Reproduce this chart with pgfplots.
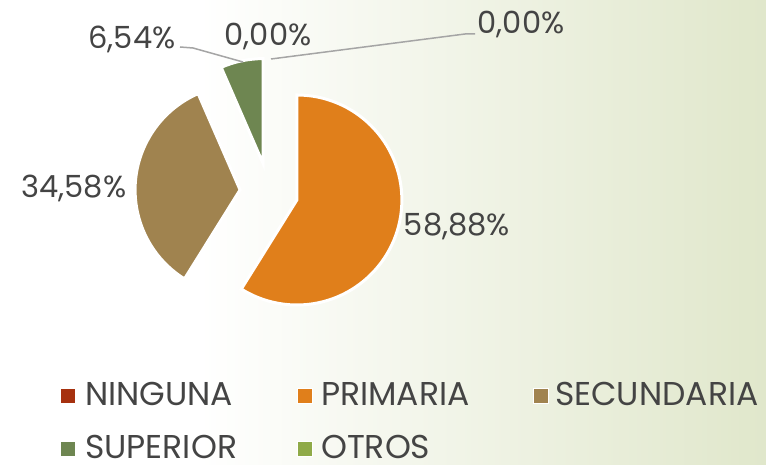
\documentclass[border=0pt]{standalone}
\usepackage{pgfplots}
\pgfplotsset{compat=1.18}
\usepackage{pgfplotstable}
\usepackage{fontspec}
\setmainfont{Poppins}
\definecolor{col0}{HTML}{A6310F}
\definecolor{col1}{HTML}{E07F1B}
\definecolor{col2}{HTML}{A0834F}
\definecolor{col3}{HTML}{6E8651}
\definecolor{col4}{HTML}{8FAA48}
\definecolor{txt}{HTML}{444444}
\definecolor{bgR}{RGB}{224,231,203}
\definecolor{lead}{HTML}{A5A5A5}
\pgfplotstableread{
categoria valor
NINGUNA 0.00
PRIMARIA 58.88
SECUNDARIA 34.58
SUPERIOR 6.54
OTROS 0.00
}\datos
\newcommand\lblfont{\fontsize{30.5}{31}\selectfont}
\newcommand\legfont{\fontsize{33}{33}\selectfont}
\begin{document}
\begin{tikzpicture}
\begin{axis}[
  scale only axis, width=766pt, height=464pt,
  xmin=0, xmax=766, ymin=0, ymax=464,
  hide axis, clip=false,
]
% background
\fill[white] (axis cs:0,0) rectangle (axis cs:200,464);
\shade[left color=white, right color=bgR, shading angle=90] (axis cs:199,0) rectangle (axis cs:766,464);
% pie
\pgfplotsextra{%
  \def\cum{0}%
  \pgfplotsforeachungrouped \i in {0,...,4}{%
    \pgfplotstablegetelem{\i}{valor}\of\datos
    \let\v\pgfplotsretval
    \pgfmathsetmacro\sa{90-3.6*\cum}%
    \pgfmathsetmacro\ea{90-3.6*(\cum+\v)}%
    \pgfmathsetmacro\ma{(\sa+\ea)/2}%
    \ifdim \v pt>0pt
      \fill[fill=col\i, draw=white, line width=3pt, line join=miter]
        (axis cs:269,272) ++(\ma:29pt) -- ++(\sa:105pt)
        arc[start angle=\sa, end angle=\ea, radius=105pt] -- cycle;
    \fi
    \pgfmathsetmacro\cum{\cum+\v}%
  }%
}
% leader lines
\draw[lead, line width=1.5pt] (axis cs:180,417) -- (axis cs:193,416) -- (axis cs:243,402);
\draw[lead, line width=1.5pt] (axis cs:271,405) -- (axis cs:465,430) -- (axis cs:475,430);
% data labels
\node[anchor=base, text=txt, font=\lblfont, inner sep=0pt] at (axis cs:457,228) {58,88\%};
\node[anchor=base, text=txt, font=\lblfont, inner sep=0pt] at (axis cs:74,266) {34,58\%};
\node[anchor=base, text=txt, font=\lblfont, inner sep=0pt] at (axis cs:132,415) {6,54\%};
\node[anchor=base, text=txt, font=\lblfont, inner sep=0pt] at (axis cs:268,418) {0,00\%};
\node[anchor=base, text=txt, font=\lblfont, inner sep=0pt] at (axis cs:521,430) {0,00\%};
% legend
\fill[col0, draw=white, line width=1pt] (axis cs:60,61) rectangle (axis cs:75,76);
\node[anchor=base west, text=txt, font=\legfont, inner sep=0pt] at (axis cs:85,59) {NINGUNA};
\fill[col1, draw=white, line width=1pt] (axis cs:297,61) rectangle (axis cs:312,76);
\node[anchor=base west, text=txt, font=\legfont, inner sep=0pt] at (axis cs:321,59) {PRIMARIA};
\fill[col2, draw=white, line width=1pt] (axis cs:533,61) rectangle (axis cs:548,76);
\node[anchor=base west, text=txt, font=\legfont, inner sep=0pt] at (axis cs:555,59) {SECUNDARIA};
\fill[col3, draw=white, line width=1pt] (axis cs:60,8) rectangle (axis cs:75,23);
\node[anchor=base west, text=txt, font=\legfont, inner sep=0pt] at (axis cs:85,6) {SUPERIOR};
\fill[col4, draw=white, line width=1pt] (axis cs:297,8) rectangle (axis cs:312,23);
\node[anchor=base west, text=txt, font=\legfont, inner sep=0pt] at (axis cs:321,6) {OTROS};
\end{axis}
\end{tikzpicture}
\end{document}
